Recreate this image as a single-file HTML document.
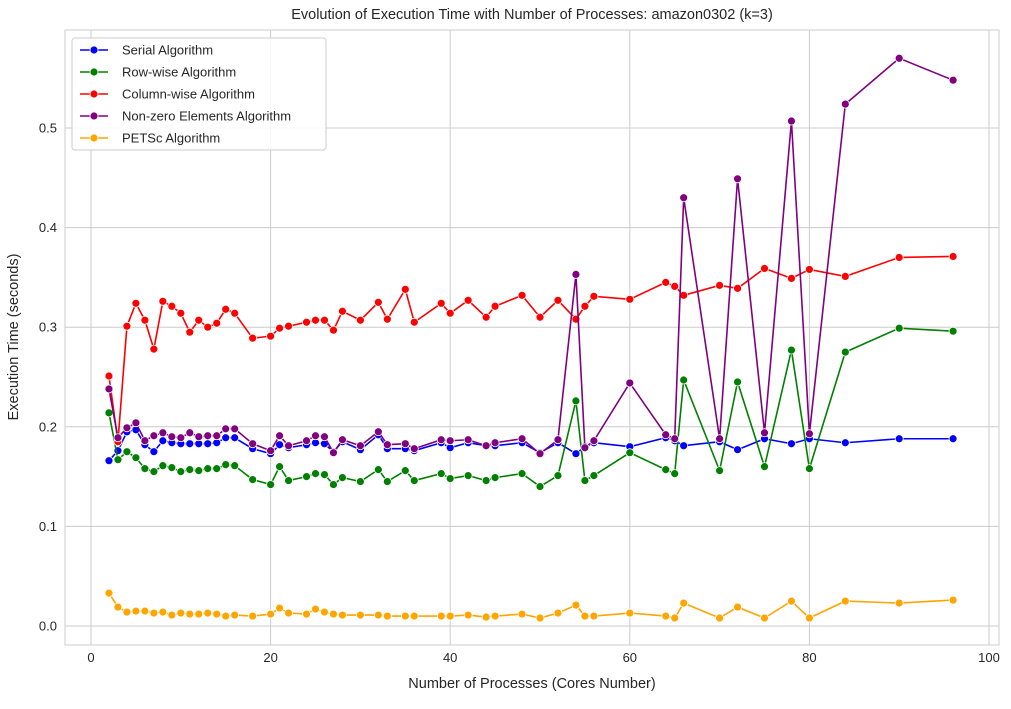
<!DOCTYPE html>
<html><head><meta charset="utf-8"><style>
body{margin:0;background:#fff;font-family:"Liberation Sans",sans-serif}
</style></head><body>
<svg id="c" width="1011" height="704" xmlns="http://www.w3.org/2000/svg" font-family="Liberation Sans, sans-serif"></svg>
<script>
const procs=[2,3,4,5,6,7,8,9,10,11,12,13,14,15,16,18,20,21,22,24,25,26,27,28,30,32,33,35,36,39,40,42,44,45,48,50,52,54,55,56,60,64,65,66,70,72,75,78,80,84,90,96];
const serial=[0.166,0.176,0.195,0.197,0.182,0.175,0.186,0.184,0.183,0.183,0.183,0.183,0.184,0.189,0.189,0.178,0.173,0.182,0.179,0.182,0.184,0.183,0.175,0.185,0.177,0.192,0.178,0.178,0.176,0.184,0.179,0.184,0.181,0.181,0.184,0.174,0.184,0.173,0.180,0.184,0.180,0.189,0.186,0.181,0.185,0.177,0.188,0.183,0.188,0.184,0.188,0.188];
const rowwise=[0.214,0.167,0.175,0.169,0.158,0.155,0.161,0.159,0.155,0.157,0.156,0.158,0.158,0.162,0.161,0.147,0.142,0.160,0.146,0.150,0.153,0.152,0.142,0.149,0.145,0.157,0.145,0.156,0.146,0.153,0.148,0.151,0.146,0.149,0.153,0.140,0.151,0.226,0.146,0.151,0.174,0.157,0.153,0.247,0.156,0.245,0.160,0.277,0.158,0.275,0.299,0.296];
const colwise=[0.251,0.185,0.301,0.324,0.307,0.278,0.326,0.321,0.314,0.295,0.307,0.300,0.304,0.318,0.314,0.289,0.291,0.299,0.301,0.305,0.307,0.307,0.297,0.316,0.307,0.325,0.308,0.338,0.305,0.324,0.314,0.327,0.310,0.321,0.332,0.310,0.327,0.308,0.321,0.331,0.328,0.345,0.341,0.332,0.342,0.339,0.359,0.349,0.358,0.351,0.370,0.371];
const nonzero=[0.238,0.189,0.199,0.204,0.186,0.191,0.194,0.190,0.189,0.194,0.190,0.191,0.191,0.198,0.198,0.183,0.176,0.191,0.181,0.186,0.191,0.190,0.174,0.187,0.181,0.195,0.182,0.183,0.178,0.187,0.186,0.187,0.181,0.184,0.188,0.173,0.187,0.353,0.179,0.186,0.244,0.192,0.188,0.430,0.188,0.449,0.194,0.507,0.193,0.524,0.570,0.548];
const petsc=[0.033,0.019,0.014,0.015,0.015,0.013,0.014,0.011,0.013,0.012,0.012,0.013,0.012,0.010,0.011,0.010,0.012,0.018,0.013,0.012,0.017,0.014,0.012,0.011,0.011,0.011,0.010,0.010,0.010,0.010,0.010,0.011,0.009,0.010,0.012,0.008,0.013,0.021,0.010,0.010,0.013,0.010,0.008,0.023,0.008,0.019,0.008,0.025,0.008,0.025,0.023,0.026];
const xTicks=[0,20,40,60,80,100];
const yTicks=[0.0,0.1,0.2,0.3,0.4,0.5];
const seriesNames=["Serial Algorithm","Row-wise Algorithm","Column-wise Algorithm","Non-zero Elements Algorithm","PETSc Algorithm"];
const seriesColors=["blue","green","red","purple","orange"];
const seriesData=[serial,rowwise,colwise,nonzero,petsc];

const svg=document.getElementById('c');
const NS="http://www.w3.org/2000/svg";
const L=65,R=999,T=30,B=645;
const sx=v=>91+v*8.98;
const sy=v=>626-v*996;
function mk(tag,attrs,parent){const e=document.createElementNS(NS,tag);for(const k in attrs)e.setAttribute(k,attrs[k]);(parent||svg).appendChild(e);return e;}
mk('rect',{x:L,y:T,width:R-L,height:B-T,fill:'#fff',stroke:'#ccc','stroke-width':1});
xTicks.forEach(t=>{
  const g=mk('line',{x1:sx(t),x2:sx(t),y1:T,y2:B,stroke:'#ccc','stroke-width':1});
  
  
  const tx=mk('text',{x:sx(t),y:B+17,'text-anchor':'middle','font-size':13,fill:'#262626'});
  tx.textContent=t;
  
  
});
yTicks.forEach(t=>{
  const g=mk('line',{x1:L,x2:R,y1:sy(t),y2:sy(t),stroke:'#ccc','stroke-width':1});
  
  
  const tx=mk('text',{x:L-8,y:sy(t)+4.5,'text-anchor':'end','font-size':13,fill:'#262626'});
  tx.textContent=t.toFixed(1);
  
  
});
seriesData.forEach((d,i)=>{
  const g=mk('g',{});
  
  
  mk('polyline',{points:procs.map((p,j)=>sx(p)+','+sy(d[j])).join(' '),fill:'none',stroke:seriesColors[i],'stroke-width':1.6},g);
  procs.forEach((p,j)=>{
    const c=mk('circle',{cx:sx(p),cy:sy(d[j]),r:4,fill:seriesColors[i],stroke:'#fff','stroke-width':0.8},g);
    
    
  });
});
const lg=mk('g',{});


mk('rect',{x:72,y:38,width:254,height:112,rx:3,fill:'#fff','fill-opacity':0.85,stroke:'#ccc'},lg);
seriesNames.forEach((n,i)=>{
  const y=50+i*22;
  const e=mk('g',{},lg);
  
  
  mk('line',{x1:80,x2:108,y1:y,y2:y,stroke:seriesColors[i],'stroke-width':1.6},e);
  mk('circle',{cx:94,cy:y,r:4,fill:seriesColors[i],stroke:'#fff','stroke-width':0.8},e);
  const t=mk('text',{x:122,y:y+4.5,'font-size':13,fill:'#262626'},e);t.textContent=n;
});
const title=mk('text',{x:532,y:19,'text-anchor':'middle','font-size':14.5,fill:'#262626'});
title.textContent="Evolution of Execution Time with Number of Processes: amazon0302 (k=3)";


const xt=mk('text',{x:532,y:688,'text-anchor':'middle','font-size':14.5,fill:'#262626'});
xt.textContent="Number of Processes (Cores Number)";


const yt=mk('text',{x:0,y:0,'text-anchor':'middle','font-size':14.5,fill:'#262626',transform:'translate(18,337) rotate(-90)'});
yt.textContent="Execution Time (seconds)";


</script>
</body></html>
